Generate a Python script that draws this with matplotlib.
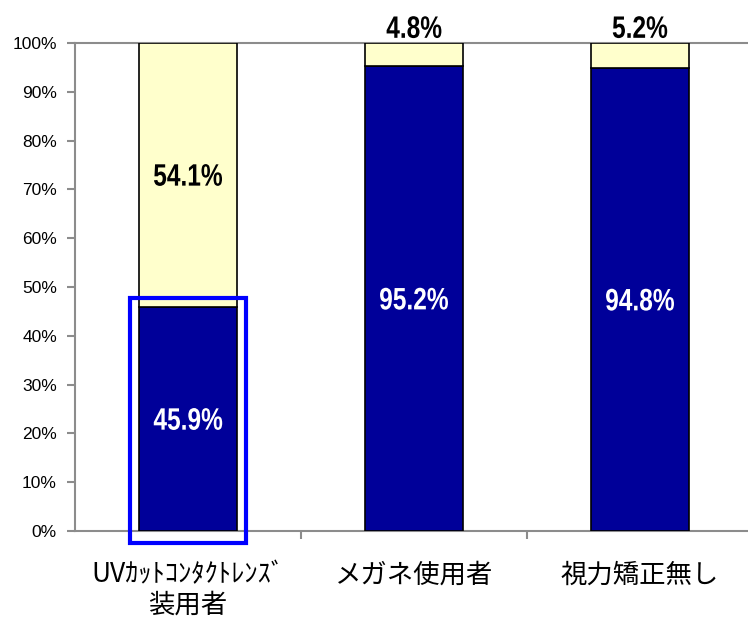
import matplotlib
matplotlib.use("Agg")
import matplotlib.pyplot as plt
from matplotlib import patches as patch
from matplotlib.font_manager import FontProperties
from matplotlib.textpath import TextPath
from matplotlib.transforms import Affine2D, ScaledTranslation
from matplotlib.ticker import FixedLocator, PercentFormatter

# data
categories = ["UVｶｯﾄｺﾝﾀｸﾄﾚﾝｽﾞ\n装用者", "メガネ使用者", "視力矯正無し"]
lower = [45.9, 95.2, 94.8]
upper = [54.1, 4.8, 5.2]

navy = "#000099"
cream = "#FFFFCC"
grey = "#8c8c8c"

plt.rcParams['font.family'] = ['Noto Sans CJK JP', 'DejaVu Sans']

fig = plt.figure(figsize=(7.48, 6.19), dpi=100)
ax = fig.add_axes([75 / 748, 88 / 619, 678 / 748, 488 / 619])

lab_prop = FontProperties(family="Liberation Sans", weight="bold")


def narrow_text(ax, x, y, s, color, va="center", size=31, squeeze=0.79):
    # condensed bold label, drawn as a path so it can be squeezed sideways
    tp = TextPath((0, 0), s, size=1, prop=lab_prop)
    ext = tp.get_extents()
    dx = -(ext.x0 + ext.x1) / 2
    if va == "center":
        dy = -(ext.y0 + ext.y1) / 2
    else:
        dy = -ext.y0
    tr = (Affine2D().translate(dx, dy).scale(size * squeeze, size)
          + ScaledTranslation(x, y, ax.transData))
    ax.add_patch(patch.PathPatch(tp, transform=tr, facecolor=color,
                                 edgecolor="none", zorder=5, clip_on=False))


x = list(range(len(categories)))
width = 0.434
ax.bar(x, lower, width, color=navy, edgecolor="black", linewidth=1.2, zorder=3)
ax.bar(x, upper, width, bottom=lower, color=cream, edgecolor="black",
       linewidth=1.2, zorder=3)

for i in x:
    narrow_text(ax, i, lower[i] / 2, "%.1f%%" % lower[i], "white")
    if upper[i] > 20:
        narrow_text(ax, i, lower[i] + upper[i] / 2, "%.1f%%" % upper[i],
                    "black")
    else:
        narrow_text(ax, i, 101.0, "%.1f%%" % upper[i], "black", va="bottom")

# highlight box round the first bar
ax.add_patch(patch.Rectangle((-0.257, -2.46), 0.514, 50.2, fill=False,
                             edgecolor="#0000ff", linewidth=3, zorder=6,
                             clip_on=False))

ax.set_xlim(-0.5, len(categories) - 0.5)
ax.set_ylim(0, 100)
ax.yaxis.set_major_locator(FixedLocator(range(0, 101, 10)))
ax.yaxis.set_major_formatter(PercentFormatter(decimals=0))
ax.set_xticks(x)
ax.set_xticklabels(categories, fontsize=19, linespacing=1.15)
ax.set_xticks([0.5, 1.5], minor=True)
ax.tick_params(axis="x", which="major", length=0, pad=22)
ax.tick_params(axis="x", which="minor", length=6, color=grey, width=1.5)
ax.tick_params(axis="y", length=6, color=grey, width=1.5, labelsize=12.5,
               pad=7)
for lbl in ax.get_yticklabels():
    lbl.set_family(["Liberation Sans", "DejaVu Sans"])

for side in ["left", "bottom", "top"]:
    ax.spines[side].set_color(grey)
    ax.spines[side].set_linewidth(1.5)
ax.spines["right"].set_visible(False)

fig.savefig("out.png", dpi=100)
